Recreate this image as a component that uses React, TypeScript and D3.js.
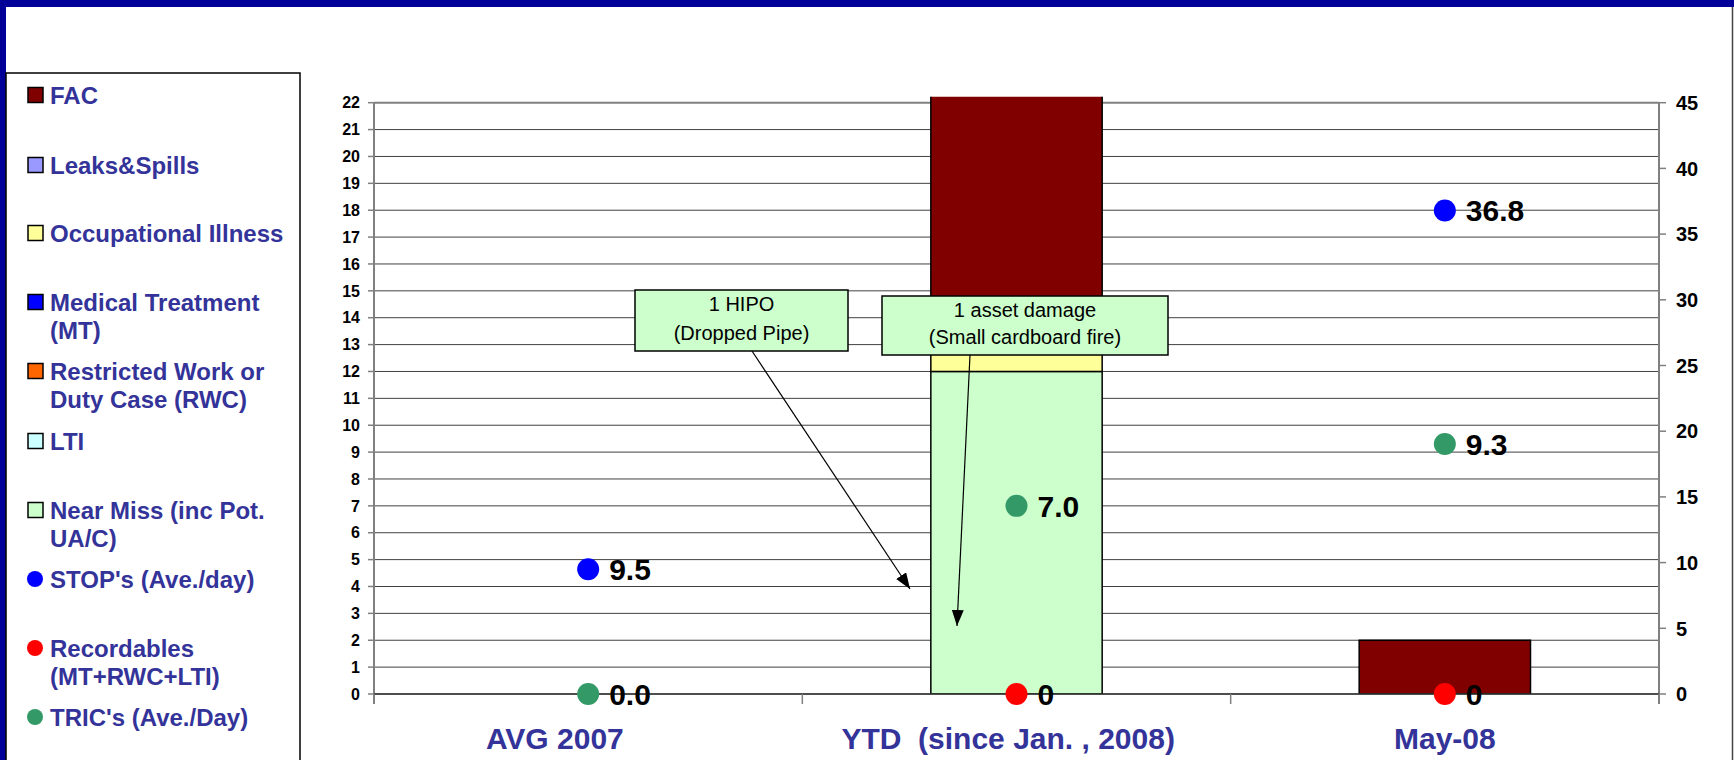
import React from "react";
import * as d3 from "d3";

const categories = ["AVG 2007", "YTD  (since Jan. , 2008)", "May-08"];
const categoryLabels = ["AVG 2007        ", "YTD  (since Jan. , 2008)  ", "May-08"];
const nearMiss = [0, 12, 0];
const occIllness = [0, 1, 0];
const fac = [0, 10, 2];
const stops: (number | null)[] = [9.5, null, 36.8];
const stopLabels = ["9.5", "", "36.8"];
const recordables: (number | null)[] = [null, 0, 0];
const recordLabels = ["", "0", "0"];
const trics: (number | null)[] = [0, 7.0, 9.3];
const tricLabels = ["0.0", "7.0", "9.3"];
const leftTicks = d3.range(0, 23);
const rightTicks = [0, 5, 10, 15, 20, 25, 30, 35, 40, 45];

const legendItems = [
  { lines: ["FAC"], color: "#800000", shape: "rect" },
  { lines: ["Leaks&Spills"], color: "#9999FF", shape: "rect" },
  { lines: ["Occupational Illness"], color: "#FFFF99", shape: "rect" },
  { lines: ["Medical Treatment", "(MT)"], color: "#0000FF", shape: "rect" },
  { lines: ["Restricted Work or", "Duty Case (RWC)"], color: "#FF6600", shape: "rect" },
  { lines: ["LTI"], color: "#CCFFFF", shape: "rect" },
  { lines: ["Near Miss (inc Pot.", "UA/C)"], color: "#CCFFCC", shape: "rect" },
  { lines: ["STOP's (Ave./day)"], color: "#0000FF", shape: "circle" },
  { lines: ["Recordables", "(MT+RWC+LTI)"], color: "#FF0000", shape: "circle" },
  { lines: ["TRIC's (Ave./Day)"], color: "#339966", shape: "circle" },
];
const legendY = [95, 165, 233, 302, 371, 441, 510, 579, 648, 717];

const W = 1734, H = 760;
const L = 374, R = 1659, T = 102.7, B = 694;

export default function App() {
  const x = d3.scaleBand<string>().domain(categories).range([L, R]).padding(0);
  const yL = d3.scaleLinear().domain([0, 22]).range([B, T]);
  const yR = d3.scaleLinear().domain([0, 45]).range([B, T]);
  const bw = x.bandwidth() * 0.4;
  const cx = (i: number) => (x(categories[i]) as number) + x.bandwidth() / 2;
  const font = "Arial, 'Liberation Sans', Helvetica, sans-serif";

  const stacks = categories.map((c, i) => {
    const segs: { y0: number; y1: number; color: string }[] = [];
    let acc = 0;
    [
      [nearMiss[i], "#CCFFCC"],
      [occIllness[i], "#FFFF99"],
      [fac[i], "#800000"],
    ].forEach(([v, col]) => {
      const n = v as number;
      if (n > 0) segs.push({ y0: acc, y1: acc + n, color: col as string });
      acc += n;
    });
    return segs;
  });

  const boundaries = [0, 1, 2, 3].map((i) => L + i * x.bandwidth());

  return (
    <svg width={W} height={H} style={{ position: "absolute", left: 0, top: 0 }} fontFamily={font}>
      <defs>
        <clipPath id="plotclip">
          <rect x={L} y={T - 6} width={R - L} height={B - T + 6} />
        </clipPath>
        <marker id="arrBig" viewBox="0 0 16 12" refX="16" refY="6" markerWidth="16" markerHeight="12" markerUnits="userSpaceOnUse" orient="auto">
          <path d="M0,0 L16,6 L0,12 z" fill="#000" />
        </marker>
      </defs>
      <rect x={0} y={0} width={W} height={H} fill="#fff" />
      {/* frame */}
      <rect x={0} y={0} width={W} height={7} fill="#000099" />
      <rect x={0} y={0} width={6} height={H} fill="#000099" />
      <line x1={W - 1.5} x2={W - 1.5} y1={7} y2={H} stroke="#444" strokeWidth={1.5} />

      {/* legend */}
      <rect x={6} y={73} width={294} height={H} fill="#fff" stroke="#000" strokeWidth={1.5} />
      {legendItems.map((it, i) => (
        <g key={i}>
          {it.shape === "rect" ? (
            <rect x={28} y={legendY[i] - 7.5} width={15} height={15} fill={it.color} stroke="#000" strokeWidth={1.5} />
          ) : (
            <circle cx={35} cy={legendY[i]} r={8} fill={it.color} />
          )}
          {it.lines.map((ln, j) => (
            <text key={j} x={50} y={legendY[i] + j * 28} dy="0.36em" fontSize={24} fontWeight="bold" fill="#333399">
              {ln}
            </text>
          ))}
        </g>
      ))}

      {/* gridlines */}
      {leftTicks.map((t) => (
        <line key={t} x1={L} x2={R} y1={yL(t)} y2={yL(t)} stroke={t === 22 ? "#808080" : "#404040"} strokeWidth={t === 22 ? 2 : 1} />
      ))}

      {/* bars */}
      <g clipPath="url(#plotclip)">
        {stacks.map((segs, i) =>
          segs.map((s, k) => (
            <rect key={i + "-" + k} x={cx(i) - bw / 2} y={yL(s.y1)} width={bw} height={yL(s.y0) - yL(s.y1)} fill={s.color} stroke="#000" strokeWidth={1.5} />
          ))
        )}
      </g>

      {/* axes */}
      <line x1={L} x2={L} y1={T} y2={B + 10} stroke="#808080" strokeWidth={2} />
      <line x1={R} x2={R} y1={T} y2={B + 10} stroke="#808080" strokeWidth={2} />
      <line x1={L} x2={R} y1={B} y2={B} stroke="#333" strokeWidth={1.5} />
      {boundaries.map((b, i) => (
        <line key={i} x1={b} x2={b} y1={B} y2={B + 10} stroke="#808080" strokeWidth={1.5} />
      ))}
      {leftTicks.map((t) => (
        <g key={t}>
          <line x1={L - 6} x2={L} y1={yL(t)} y2={yL(t)} stroke="#808080" strokeWidth={1.5} />
          <text x={L - 14} y={yL(t)} dy="0.36em" textAnchor="end" fontSize={16} fontWeight="bold" fill="#000">
            {t}
          </text>
        </g>
      ))}
      {rightTicks.map((t) => (
        <g key={t}>
          <line x1={R} x2={R + 7} y1={yR(t)} y2={yR(t)} stroke="#808080" strokeWidth={1.5} />
          <text x={R + 17} y={yR(t)} dy="0.36em" textAnchor="start" fontSize={20} fontWeight="bold" fill="#000">
            {t}
          </text>
        </g>
      ))}
      {categories.map((c, i) => (
        <text key={c} x={cx(i)} y={749} textAnchor="middle" fontSize={30} fontWeight="bold" fill="#333399" xmlSpace="preserve" style={{ whiteSpace: "pre" }}>
          {categoryLabels[i]}
        </text>
      ))}

      {/* points */}
      {recordables.map((v, i) =>
        v === null ? null : (
          <g key={"r" + i}>
            <circle cx={cx(i)} cy={yR(v)} r={11} fill="#FF0000" />
            <text x={cx(i) + 21} y={yR(v)} dy="0.36em" fontSize={30} fontWeight="bold" fill="#000">{recordLabels[i]}</text>
          </g>
        )
      )}
      {trics.map((v, i) =>
        v === null ? null : (
          <g key={"t" + i}>
            <circle cx={cx(i)} cy={yL(v)} r={11} fill="#339966" />
            <text x={cx(i) + 21} y={yL(v)} dy="0.36em" fontSize={30} fontWeight="bold" fill="#000">{tricLabels[i]}</text>
          </g>
        )
      )}
      {stops.map((v, i) =>
        v === null ? null : (
          <g key={"s" + i}>
            <circle cx={cx(i)} cy={yR(v)} r={11} fill="#0000FF" />
            <text x={cx(i) + 21} y={yR(v)} dy="0.36em" fontSize={30} fontWeight="bold" fill="#000">{stopLabels[i]}</text>
          </g>
        )
      )}

      {/* annotations */}
      <line x1={752} y1={351} x2={910} y2={589} stroke="#000" strokeWidth={1.2} markerEnd="url(#arrBig)" />
      <line x1={970} y1={355} x2={957} y2={626} stroke="#000" strokeWidth={1.2} markerEnd="url(#arrBig)" />
      <g>
        <rect x={635} y={290} width={213} height={61} fill="#CCFFCC" stroke="#000" strokeWidth={1.5} />
        <text x={741.5} y={304} dy="0.36em" textAnchor="middle" fontSize={20} fill="#000">1 HIPO</text>
        <text x={741.5} y={333} dy="0.36em" textAnchor="middle" fontSize={20} fill="#000">(Dropped Pipe)</text>
      </g>
      <g>
        <rect x={882} y={296} width={286} height={59} fill="#CCFFCC" stroke="#000" strokeWidth={1.5} />
        <text x={1025} y={310} dy="0.36em" textAnchor="middle" fontSize={20} fill="#000">1 asset damage</text>
        <text x={1025} y={337} dy="0.36em" textAnchor="middle" fontSize={20} fill="#000">(Small cardboard fire)</text>
      </g>
    </svg>
  );
}
